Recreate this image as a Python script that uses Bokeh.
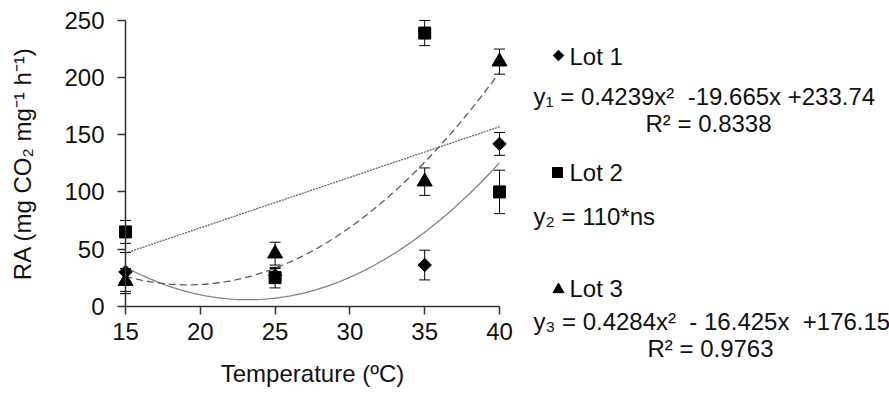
import numpy as np
from bokeh.plotting import figure
from bokeh.models import Range1d, ColumnDataSource, Whisker, TeeHead, FixedTicker
from bokeh.core.properties import value
from bokeh.embed import file_html
from bokeh.resources import INLINE

# ---- data ----
temps = [15, 25, 35, 40]
lot1 = [30, 27, 36, 142]
lot1_err = [17, 6, 13, 10]
lot2 = [65, 25, 239, 100]
lot2_err = [10, 9, 11, 19]
lot3 = [22, 46, 109, 214]
lot3_err = [11, 10, 12, 11]

fit1 = [0.4239, -19.665, 233.74]
fit3 = [0.4284, -16.425, 176.15]

x_ticks = [15, 20, 25, 30, 35, 40]
y_ticks = [0, 50, 100, 150, 200, 250]

NB = "\u00a0"
legend_names = ["Lot 1", "Lot 2", "Lot 3"]
eq_lines = ["y₁ = 0.4239x²" + NB + NB + "-19.665x +233.74",
            "y₂ = 110*ns",
            "y₃ = 0.4284x²" + NB + NB + "- 16.425x" + NB + NB + "+176.15"]
r2_lines = ["R² = 0.8338", "R² = 0.9763"]

FONT = "Liberation Sans"
FS = "24px"
TXT = "#111111"

# ---- layout (page pixels; the Bokeh page template has no body margin) ----
W, H = 889, 395
OX, OY = 0, 0
AX_L, AX_R = 125, 499             # screen x of x=15 and x=40
AX_T, AX_B = 20, 305.7            # screen y of y=250 and y=0
kx = (AX_R - AX_L) / (x_ticks[-1] - x_ticks[0])
ky = (AX_B - AX_T) / (y_ticks[-1] - y_ticks[0])
x0 = x_ticks[0] - (AX_L - OX) / kx
x1 = x_ticks[0] + (OX + W - AX_L) / kx
y1r = y_ticks[-1] + (AX_T - OY) / ky
y0r = y_ticks[0] - (OY + H - AX_B) / ky

def dx(sx):
    return x_ticks[0] + (sx - AX_L) / kx

def dy(sy):
    return (AX_B - sy) / ky

p = figure(width=W, height=H, output_backend="svg", toolbar_location=None,
           x_range=Range1d(x0, x1), y_range=Range1d(y0r, y1r),
           min_border_left=0, min_border_right=0, min_border_top=0, min_border_bottom=0)
p.outline_line_color = None
p.xgrid.visible = False
p.ygrid.visible = False

for ax in (p.xaxis[0], p.yaxis[0]):
    ax.axis_line_color = "#333333"
    ax.axis_line_width = 1.5
    ax.major_tick_line_color = "#333333"
    ax.major_tick_line_width = 1.5
    ax.major_tick_in = 0
    ax.major_tick_out = 8
    ax.minor_tick_line_color = None
    ax.major_label_text_font = FONT
    ax.major_label_text_font_size = FS
    ax.major_label_text_color = TXT
    ax.axis_label_text_font = FONT
    ax.axis_label_text_font_size = FS
    ax.axis_label_text_font_style = "normal"
    ax.axis_label_text_color = TXT

p.xaxis.ticker = FixedTicker(ticks=x_ticks)
p.yaxis.ticker = FixedTicker(ticks=y_ticks)
p.xaxis.bounds = (x_ticks[0], x_ticks[-1])
p.yaxis.bounds = (y_ticks[0], y_ticks[-1])
p.xaxis.fixed_location = y_ticks[0]
p.yaxis.fixed_location = x_ticks[0]
p.xaxis.major_label_standoff = 9
p.yaxis.major_label_standoff = 13
p.xaxis.axis_label = "Temperature (ºC)"
p.yaxis.axis_label = "RA (mg CO₂ mg⁻¹ h⁻¹)"
p.xaxis.axis_label_standoff = 16
p.yaxis.axis_label_standoff = 25

# trend lines
xs = np.linspace(x_ticks[0], x_ticks[-1], 120)
yf1 = np.polyval(fit1, xs)
yf3 = np.polyval(fit3, xs)
lin2 = np.polyfit(temps, lot2, 1)
yf2 = np.polyval(lin2, xs)
p.line(xs, yf1, line_color="#808080", line_width=1.3)
p.line(xs, yf3, line_color="#595959", line_width=1.3, line_dash="7 4")
p.line(xs, yf2, line_color="#666666", line_width=1.3, line_dash="2 1")

# error bars
for vals, errs in ((lot1, lot1_err), (lot2, lot2_err), (lot3, lot3_err)):
    src = ColumnDataSource(dict(x=temps,
                                upper=[v + e for v, e in zip(vals, errs)],
                                lower=[v - e for v, e in zip(vals, errs)]))
    w = Whisker(source=src, base="x", upper="upper", lower="lower",
                line_color="black", line_width=1,
                upper_head=TeeHead(size=11, line_color="black", line_width=1),
                lower_head=TeeHead(size=11, line_color="black", line_width=1))
    p.add_layout(w)

# markers
p.scatter(temps, lot1, marker="square", angle=np.pi / 4, size=9.5, color="black")
p.scatter(temps, lot2, marker="square", size=12, color="black")
p.scatter(temps, lot3, marker="triangle", size=15, color="black")

# ---- legend / equations at the right ----
p.scatter([dx(558)], [dy(55)], marker="square", angle=np.pi / 4, size=7.5, color="black")
p.scatter([dx(557)], [dy(172)], marker="square", size=10, color="black")
p.scatter([dx(558)], [dy(289)], marker="triangle", size=11, color="black")

p.text(x=[dx(569)] * 3, y=[dy(56), dy(172), dy(288)], text=legend_names,
       text_font=value(FONT), text_font_size=value(FS), text_color=TXT,
       text_align="left", text_baseline="middle")
p.text(x=[dx(533)] * 3, y=[dy(96), dy(216), dy(321)], text=eq_lines,
       text_font=value(FONT), text_font_size=value(FS), text_color=TXT,
       text_align="left", text_baseline="middle")
p.text(x=[dx(708), dx(710)], y=[dy(123), dy(348)], text=r2_lines,
       text_font=value(FONT), text_font_size=value(FS), text_color=TXT,
       text_align="center", text_baseline="middle")

open("out.html", "w").write(file_html(p, INLINE))
